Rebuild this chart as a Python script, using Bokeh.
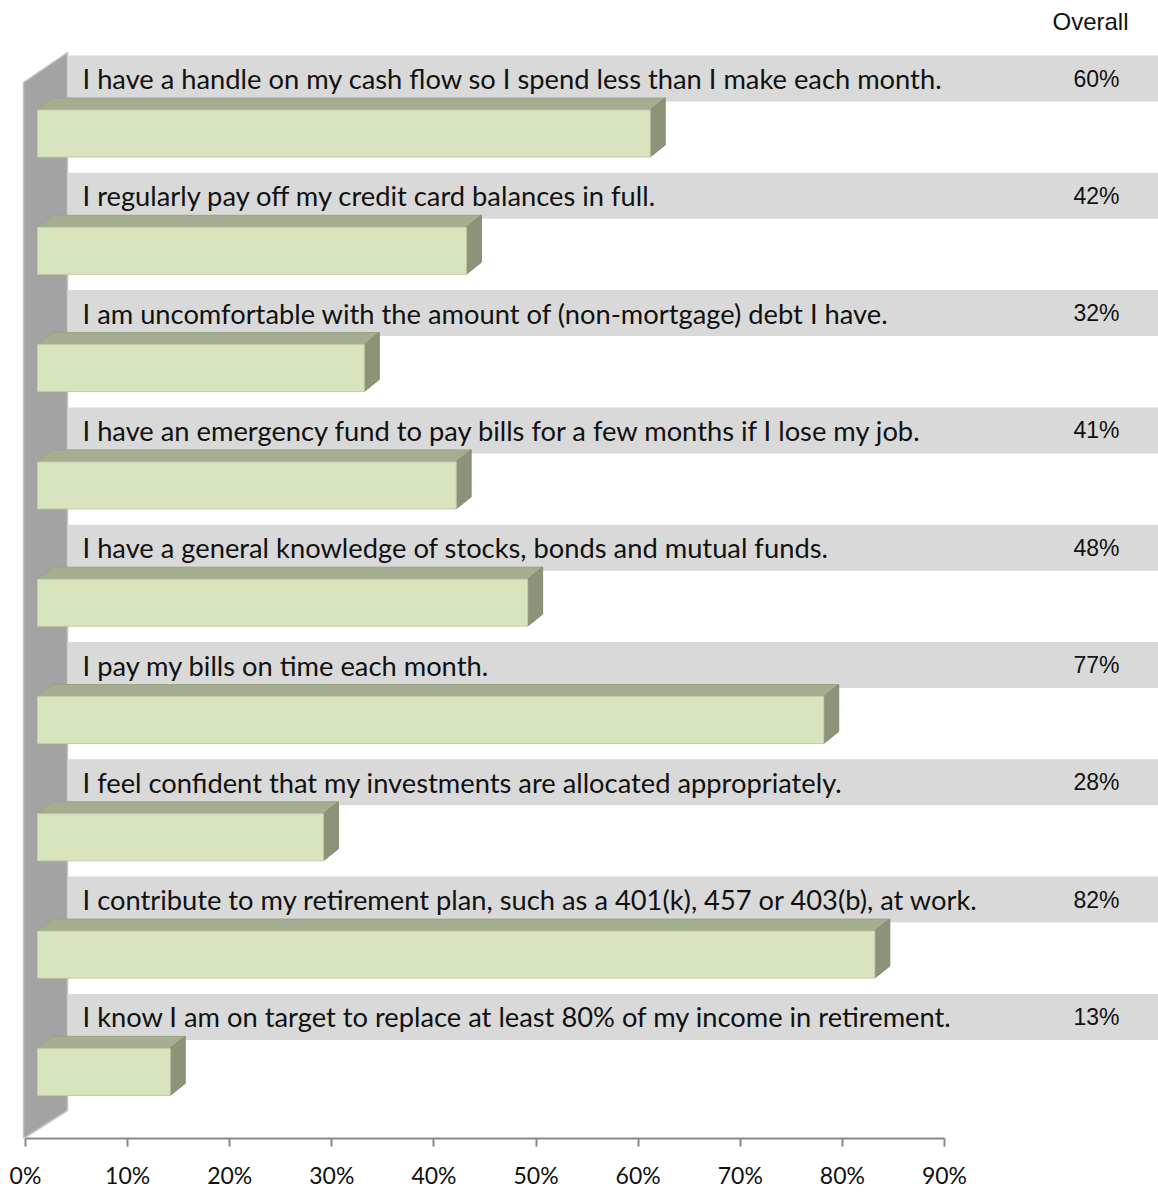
from bokeh.plotting import figure
from bokeh.models import Range1d, LinearAxis, FixedTicker, ColumnDataSource
from bokeh.core.properties import value
from bokeh.embed import file_html
from bokeh.resources import INLINE

# ---------------- data ----------------
statements = [
    "I have a handle on my cash flow so I spend less than I make each month.",
    "I regularly pay off my credit card balances in full.",
    "I am uncomfortable with the amount of (non-mortgage) debt I have.",
    "I have an emergency fund to pay bills for a few months if I lose my job.",
    "I have a general knowledge of stocks, bonds and mutual funds.",
    "I pay my bills on time each month.",
    "I feel confident that my investments are allocated appropriately.",
    "I contribute to my retirement plan, such as a 401(k), 457 or 403(b), at work.",
    "I know I am on target to replace at least 80% of my income in retirement.",
]
overall = [60, 42, 32, 41, 48, 77, 28, 82, 13]
overall_labels = ["60%", "42%", "32%", "41%", "48%", "77%", "28%", "82%", "13%"]
column_header = "Overall"
x_ticks = [0, 10, 20, 30, 40, 50, 60, 70, 80, 90]
x_tick_labels = ["0%", "10%", "20%", "30%", "40%", "50%", "60%", "70%", "80%", "90%"]

# ---------------- layout constants (pixels) ----------------
W, H = 1158, 1192
PX_PER_PCT = 10.211      # horizontal scale
PX_PER_ROW = 117.3       # category spacing
ZERO_PX = 25             # pixel of 0 %
FIRST_ROW_PX = 133       # pixel centre of first category
FLOOR_PX = 1138          # bottom of plotting frame

def dx(px):
    return px / PX_PER_PCT

def dy(px):
    return px / PX_PER_ROW

x_start = -ZERO_PX / PX_PER_PCT
x_end = (W - ZERO_PX) / PX_PER_PCT
y_top = -FIRST_ROW_PX / PX_PER_ROW
y_bottom = (FLOOR_PX - FIRST_ROW_PX) / PX_PER_ROW

p = figure(width=W, height=H,
           x_range=Range1d(x_start, x_end), y_range=Range1d(y_bottom, y_top),
           output_backend="svg", toolbar_location=None,
           x_axis_type=None, y_axis_type=None,
           min_border_left=0, min_border_right=0, min_border_top=0, min_border_bottom=H - FLOOR_PX,
           outline_line_color=None, background_fill_color="white", border_fill_color="white")

n = len(statements)
rows = list(range(n))

# ---------------- side wall ----------------
wall_front = dx(-2)
wall_back = dx(42)
wall_xs = [wall_front, wall_back, wall_back, wall_front]
wall_ys = [-dy(51), -dy(81), y_bottom - dy(28), y_bottom]
p.patch(wall_xs, wall_ys, fill_color="#a3a3a3", line_color="#c4c4c4", line_width=1.5)

# ---------------- label bands ----------------
band_src = ColumnDataSource(dict(
    left=[wall_back] * n, right=[x_end] * n,
    top=[r - dy(78) for r in rows], bottom=[r - dy(32) for r in rows]))
p.quad(left="left", right="right", top="top", bottom="bottom", source=band_src,
       fill_color="#d9d9d9", line_color=None)

# ---------------- 3D bars ----------------
SHIFT = dx(12)
DX3 = dx(15)
DY3 = dy(12)
HALF = dy(23.5)

fl = [SHIFT] * n
fr = [v + SHIFT for v in overall]
ft = [r - HALF for r in rows]
fb = [r + HALF for r in rows]

top_xs = [[l, rr, rr + DX3, l + DX3] for l, rr in zip(fl, fr)]
top_ys = [[t, t, t - DY3, t - DY3] for t in ft]
side_xs = [[rr, rr + DX3, rr + DX3, rr] for rr in fr]
side_ys = [[t, t - DY3, b - DY3, b] for t, b in zip(ft, fb)]

p.patches(top_xs, top_ys, fill_color="#a4ad90", line_color="#9aa386", line_width=1)
p.patches(side_xs, side_ys, fill_color="#8b9479", line_color="#838c71", line_width=1)
p.quad(left=fl, right=fr, top=ft, bottom=fb,
       fill_color="#d8e4bd", line_color="#c3cda8", line_width=1)

# ---------------- texts ----------------
p.text(x=[dx(57)] * n, y=[r - dy(55) for r in rows], text=statements,
       text_font=value("Lato"), text_font_size="27.3px", text_color="#111111",
       text_align="left", text_baseline="middle")

p.text(x=[dx(1071)] * n, y=[r - dy(55) for r in rows], text=overall_labels,
       text_font=value("Liberation Sans"), text_font_size="23px", text_color="#111111",
       text_align="center", text_baseline="middle")

p.text(x=[dx(1065)], y=[-dy(112)], text=[column_header],
       text_font=value("Liberation Sans"), text_font_size="24px", text_color="#111111",
       text_align="center", text_baseline="middle")

# ---------------- x axis ----------------
ax = LinearAxis(bounds=(0, 90), ticker=FixedTicker(ticks=x_ticks))
ax.major_label_overrides = {t: lab for t, lab in zip(x_ticks, x_tick_labels)}
ax.axis_line_color = "#888888"
ax.axis_line_width = 2
ax.major_tick_line_color = "#888888"
ax.major_tick_line_width = 2
ax.major_tick_out = 8
ax.major_tick_in = 0
ax.minor_tick_line_color = None
ax.major_label_text_font = "Lato"
ax.major_label_text_font_size = "23px"
ax.major_label_text_color = "#111111"
ax.major_label_standoff = 14
p.add_layout(ax, "below")

open("out.html", "w").write(file_html(p, INLINE))
